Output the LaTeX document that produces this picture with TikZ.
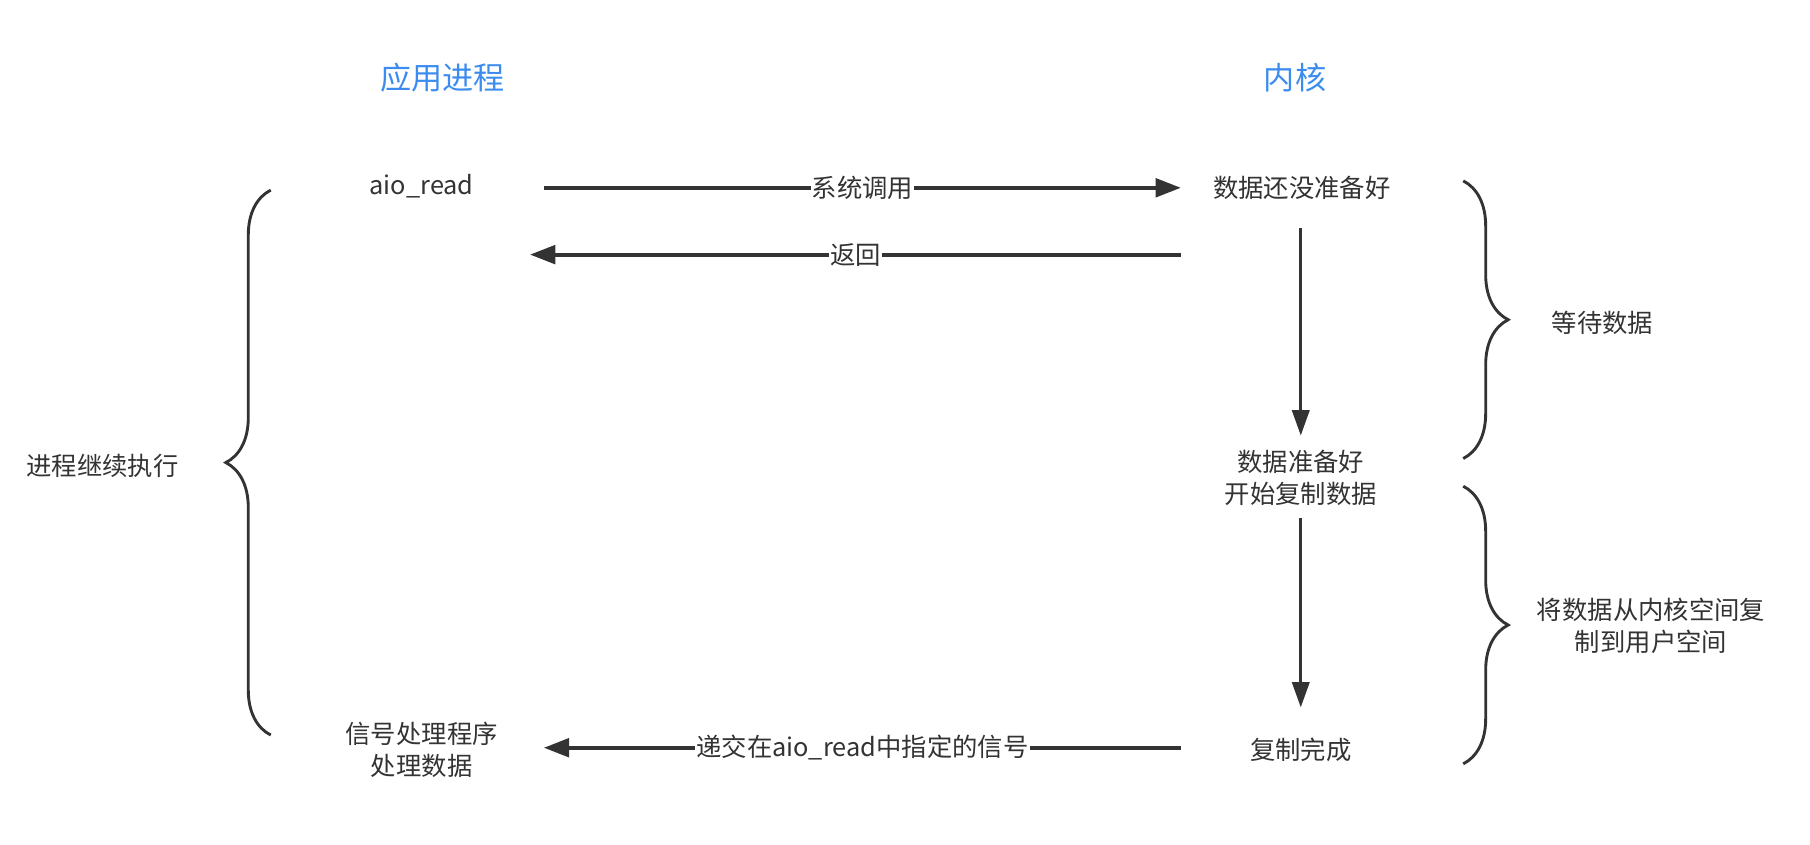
\documentclass[tikz,border=0pt]{standalone}
\usepackage{fontspec}
\setmainfont{Noto Sans CJK SC}
\usetikzlibrary{positioning,arrows.meta,decorations.pathreplacing}
\definecolor{ink}{HTML}{333333}
\definecolor{titleblue}{HTML}{3C8CF0}

\begin{document}
\begin{tikzpicture}[x=1pt,y=-1pt,
	every node/.style={align=center, inner sep=0pt, text=ink, font=\fontsize{22}{28}\selectfont},
	title/.style={text=titleblue, font=\fontsize{27}{32}\selectfont},
	call/.style={draw=ink, line width=3.5pt, -{Triangle[length=22pt,width=16pt]}},
	flow/.style={draw=ink, line width=2.5pt, -{Triangle[length=22pt,width=15pt]}},
	tag/.style={fill=white, inner sep=1pt},
	curly/.style={draw=ink, line width=2.5pt, decorate, decoration={brace, amplitude=39pt}}]
	\useasboundingbox (0,0) rectangle (1571,733);

	% column titles
	\node[title] (app) at (384, 67) {应用进程};
	\node[title] (kern) at (1124, 67) {内核};

	% application side
	\node (aioread) at (366, 162) {aio\_read};
	\node (handler) at (366, 651) {信号处理程序\\处理数据};
	\node (cont) at (89, 404) {进程继续执行};

	% kernel side
	\node (notready) at (1130, 163) {数据还没准备好};
	\node (ready) at (1129, 415) {数据准备好\\开始复制数据};
	\node (done) at (1129, 651) {复制完成};
	\node (wait) at (1391, 280) {等待数据};
	\node (copy) at (1433, 543) {将数据从内核空间复\\制到用户空间};

	\coordinate (callS) at (472, 163);
	\coordinate (callE) at (1025, 163);
	\coordinate (retS) at (1025, 221);
	\coordinate (retE) at (460, 221);
	\coordinate (sigS) at (1025, 649);
	\coordinate (sigE) at (472, 649);

	\draw [call] (callS) to node[tag] {系统调用} (callE);
	\draw [call] (retS) to node[tag] {返回} (retE);
	\draw [call] (sigS) to node[tag] {递交在aio\_read中指定的信号} (sigE);

	\draw [flow] (1129, 198) to (1129, 378);
	\draw [flow] (1129, 450) to (1129, 614);

	% braces
	\draw [curly] (235, 638) to (235, 165);
	\draw [curly] (1270, 157) to (1270, 398);
	\draw [curly] (1270, 422) to (1270, 663);
\end{tikzpicture}
\end{document}
